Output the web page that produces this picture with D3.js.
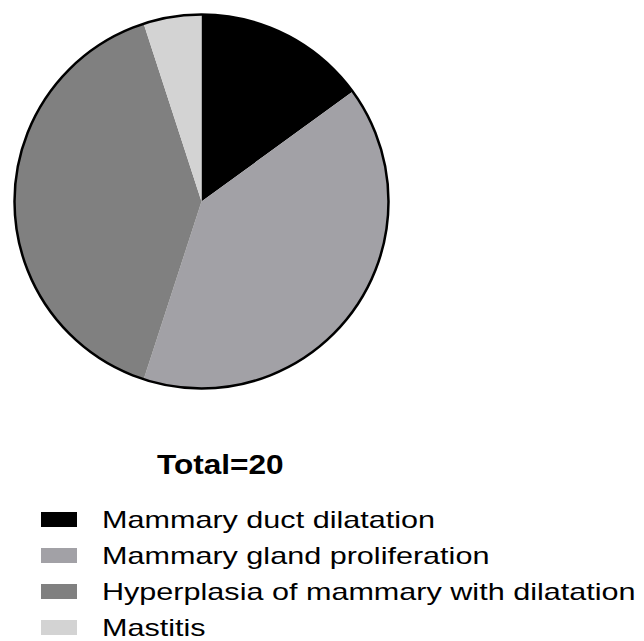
<!DOCTYPE html>
<html>
<head>
<meta charset="utf-8">
<script src="https://cdn.jsdelivr.net/npm/d3@7"></script>
<style>
  body { margin: 0; background: #fff; }
  text { font-family: "Liberation Sans", Arial, sans-serif; fill: #000; }
</style>
</head>
<body>
<svg width="644" height="641"></svg>
<script>
// counts per diagnosis, total 20
var categories = ["Mammary duct dilatation", "Mammary gland proliferation", "Hyperplasia of mammary with dilatation", "Mastitis"];
var counts = [3, 8, 8, 1];
var colors = ["#000000", "#a2a1a6", "#808080", "#d3d3d3"];

var svg = d3.select("svg"),
    cx = 201.5, cy = 201.5,
    radius = 187;

var data = categories.map(function (c, i) { return { name: c, value: counts[i] }; });

var color = d3.scaleOrdinal().domain(categories).range(colors);

var pie = d3.pie().sort(null).value(function (d) { return d.value; });

var path = d3.arc().outerRadius(radius).innerRadius(0);

var g = svg.append("g")
    .attr("transform", "translate(" + cx + "," + cy + ")");

g.selectAll(".arc")
    .data(pie(data))
    .enter().append("path")
    .attr("class", "arc")
    .attr("d", path)
    .attr("fill", function (d) { return color(d.data.name); });

// outline round the whole pie
g.append("circle")
    .attr("r", radius)
    .attr("fill", "none")
    .attr("stroke", "#000")
    .attr("stroke-width", 2.5);

var total = d3.sum(counts);
svg.append("text")
    .attr("transform", "translate(157,474) scale(1.17,1)")
    .attr("font-size", 27)
    .attr("font-weight", "bold")
    .text("Total=" + total);

var legend = svg.selectAll(".legend")
    .data(categories)
    .enter().append("g")
    .attr("class", "legend")
    .attr("transform", function (d, i) { return "translate(0," + (528 + i * 36) + ")"; });

legend.append("rect")
    .attr("x", 41)
    .attr("y", -16)
    .attr("width", 36)
    .attr("height", 15)
    .attr("fill", function (d) { return color(d); });

legend.append("text")
    .attr("transform", "translate(102,0) scale(1.33,1)")
    .attr("font-size", 23)
    .text(function (d) { return d; });
</script>
</body>
</html>
